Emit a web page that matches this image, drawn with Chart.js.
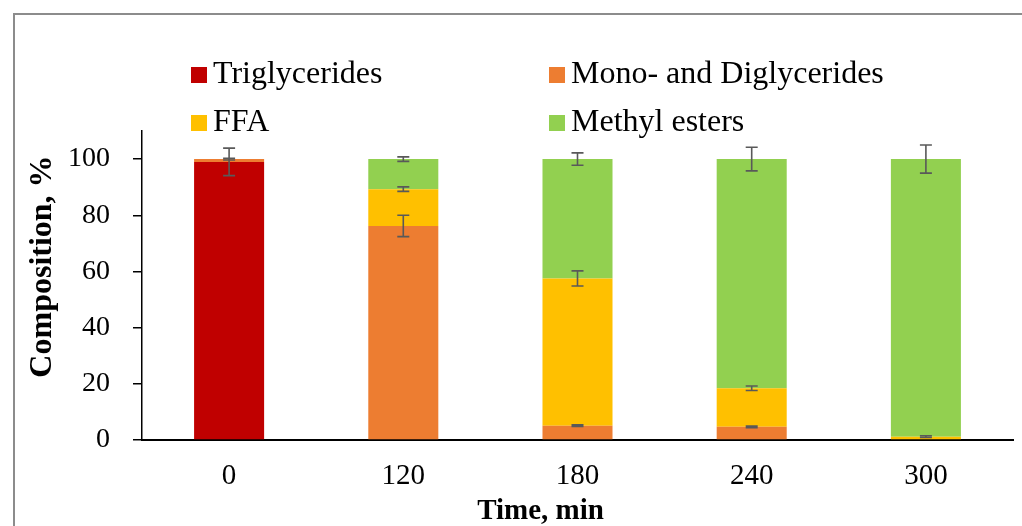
<!DOCTYPE html>
<html><head><meta charset="utf-8">
<script src="https://cdn.jsdelivr.net/npm/chart.js@4"></script>
<style>
html,body{margin:0;padding:0;background:#fff;overflow:hidden}
#wrap{position:relative;width:1022px;height:526px;overflow:hidden}
#frame{position:absolute;left:13px;top:13px;width:1100px;height:600px;border:2px solid #8c8c8c;box-sizing:border-box;pointer-events:none}
canvas{position:absolute;left:0;top:0}
</style></head><body>
<div id="wrap"><canvas id="c" width="1022" height="526"></canvas><div id="frame"></div></div>
<script>
const categories = ['0', '120', '180', '240', '300'];
const seriesNames = ['Triglycerides', 'Mono- and Diglycerides', 'FFA', 'Methyl esters'];
const triglycerides = [99.0, 0, 0, 0, 0];
const monoDiglycerides = [1.0, 76.2, 5.1, 4.7, 0];
const ffa = [0, 13.1, 52.4, 13.7, 1.2];
const methylEsters = [0, 10.7, 42.5, 81.6, 98.8];
const errTriglycerides = [4.9, 0, 0, 0, 0];
const errMonoDiglycerides = [0.3, 3.8, 0.3, 0.3, 0];
const errFfa = [0, 0.8, 2.7, 0.8, 0.3];
const errMethylEsters = [0, 0.8, 2.2, 4.2, 5.0];
const yTickValues = [0, 20, 40, 60, 80, 100];
const xTitle = 'Time, min';
const yTitle = 'Composition, %';
const colors = ['#C00000', '#ED7D31', '#FFC000', '#92D050'];

const seriesValues = [triglycerides, monoDiglycerides, ffa, methylEsters];
const seriesErrors = [errTriglycerides, errMonoDiglycerides, errFfa, errMethylEsters];

const errorBarPlugin = {
  id: 'errorBars',
  afterDatasetsDraw(chart) {
    const ys = chart.scales.y;
    const ctx = chart.ctx;
    ctx.save();
    ctx.strokeStyle = '#595959';
    ctx.lineWidth = 1.6;
    chart.data.datasets.forEach((d, i) => {
      const meta = chart.getDatasetMeta(i);
      d.data.forEach((v, j) => {
        const e = d.errors[j];
        if (!e) return;
        let top = 0;
        for (let k = 0; k <= i; k++) top += chart.data.datasets[k].data[j];
        const x = meta.data[j].x;
        const y1 = ys.getPixelForValue(top + e);
        const y2 = ys.getPixelForValue(top - e);
        ctx.beginPath();
        ctx.moveTo(x, y1); ctx.lineTo(x, y2);
        ctx.moveTo(x - 6, y1); ctx.lineTo(x + 6, y1);
        ctx.moveTo(x - 6, y2); ctx.lineTo(x + 6, y2);
        ctx.stroke();
      });
    });
    ctx.restore();
  }
};

const gridLegendPlugin = {
  id: 'gridLegend',
  afterDraw(chart) {
    const ctx = chart.ctx;
    const cols = [191, 549];
    const rows = [75, 123];
    ctx.save();
    chart.data.datasets.forEach((d, i) => {
      const x = cols[i % 2], y = rows[Math.floor(i / 2)];
      ctx.fillStyle = d.backgroundColor;
      ctx.fillRect(x, y - 8, 16, 16);
      ctx.fillStyle = '#000';
      ctx.font = '32px "Liberation Serif"';
      ctx.textBaseline = 'alphabetic';
      ctx.textAlign = 'left';
      ctx.fillText(d.label, x + 22, y + 8);
    });
    ctx.restore();
  }
};

const axisTitlesPlugin = {
  id: 'axisTitles',
  afterDraw(chart) {
    const ctx = chart.ctx;
    const ca = chart.chartArea;
    ctx.save();
    ctx.fillStyle = '#000';
    ctx.textAlign = 'center';
    ctx.textBaseline = 'alphabetic';
    ctx.font = 'bold 29px "Liberation Serif"';
    ctx.fillText(xTitle, (ca.right + 68) / 2, 519);
    ctx.translate(51, (ca.top + ca.bottom) / 2 - 19);
    ctx.rotate(-Math.PI / 2);
    ctx.font = 'bold 32px "Liberation Serif"';
    ctx.fillText(yTitle, 0, 0);
    ctx.restore();
  }
};

new Chart(document.getElementById('c'), {
  type: 'bar',
  data: {
    labels: categories,
    datasets: seriesNames.map((name, i) => ({
      label: name,
      data: seriesValues[i],
      errors: seriesErrors[i],
      backgroundColor: colors[i],
      borderWidth: 0,
      categoryPercentage: 1,
      barPercentage: 0.402
    }))
  },
  options: {
    responsive: false,
    animation: false,
    layout: { padding: { left: 0, top: 131, right: 9, bottom: 0 } },
    plugins: { legend: { display: false }, tooltip: { enabled: false } },
    scales: {
      x: {
        stacked: true,
        grid: { display: false, drawTicks: false },
        border: { display: true, color: '#000', width: 2 },
        ticks: { color: '#000', padding: 19, font: { family: 'Liberation Serif', size: 29 } },
        title: { display: false },
        afterFit(s) { s.height = 86; }
      },
      y: {
        stacked: true,
        min: 0, max: 110,
        afterBuildTicks(s) { s.ticks = yTickValues.map(v => ({ value: v })); },
        grid: { display: true, drawOnChartArea: false, drawTicks: true, tickLength: 9, color: '#000', lineWidth: 1.5 },
        border: { display: true, color: '#000', width: 1.5 },
        ticks: { color: '#000', padding: 23, font: { family: 'Liberation Serif', size: 28 } },
        title: { display: false },
        afterFit(s) { s.width = 142; }
      }
    }
  },
  plugins: [errorBarPlugin, gridLegendPlugin, axisTitlesPlugin]
});
</script>
</body></html>
